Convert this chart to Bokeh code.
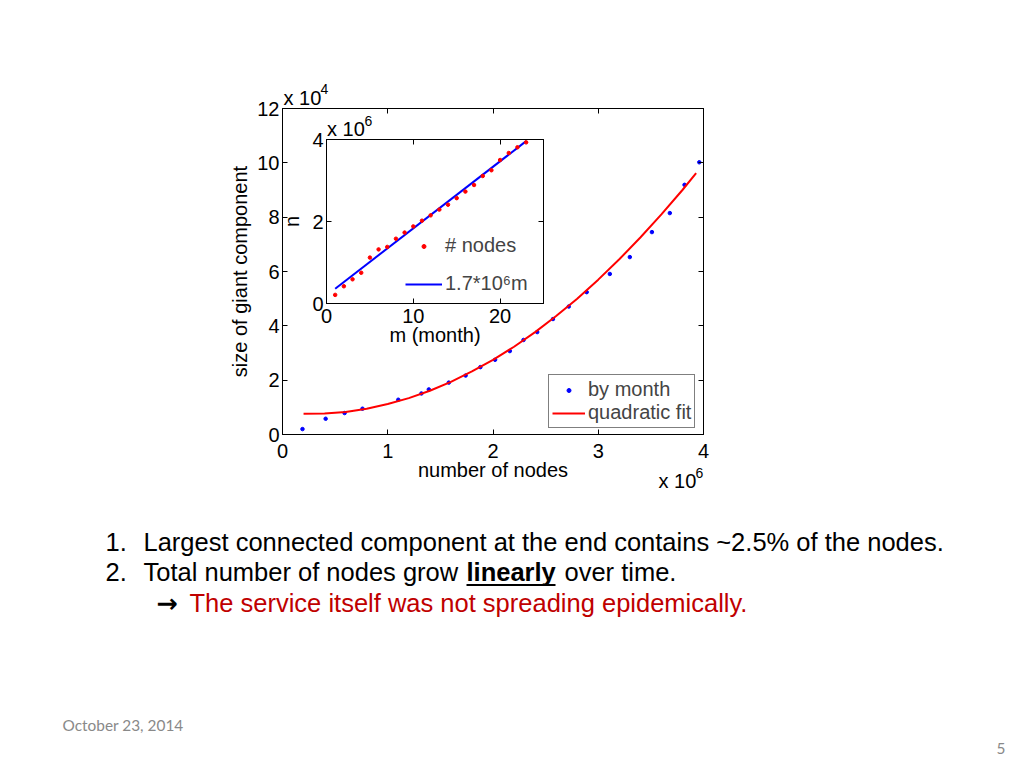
from bokeh.plotting import figure
from bokeh.layouts import column
from bokeh.models import (Range1d, LinearAxis, FixedTicker, Label, Legend,
                          LegendItem, BoxAnnotation)
from bokeh.embed import file_html
from bokeh.resources import INLINE

# ---------------- data ----------------
month = list(range(1, 24))
# inset: total nodes n (x 10^6) per month
nodes_inset = [0.21, 0.42, 0.59, 0.75, 1.12, 1.32, 1.38, 1.58, 1.73, 1.88, 2.02, 2.15,
               2.29, 2.41, 2.57, 2.73, 2.89, 3.11, 3.25, 3.50, 3.67, 3.81, 3.93]
lin_m = [1, 23]
lin_n = [0.36, 3.96]
# main: number of nodes (x 10^6) vs size of giant component (x 10^4)
nodes = [0.19, 0.41, 0.59, 0.76, 1.10, 1.32, 1.39, 1.58, 1.74, 1.88, 2.02, 2.16,
         2.29, 2.42, 2.57, 2.72, 2.89, 3.11, 3.30, 3.51, 3.68, 3.82, 3.96]
giant = [0.20, 0.58, 0.79, 0.95, 1.28, 1.51, 1.66, 1.91, 2.17, 2.48, 2.75, 3.07,
         3.48, 3.77, 4.25, 4.71, 5.24, 5.91, 6.53, 7.45, 8.15, 9.19, 10.02]
fit_x = [0.2, 0.4, 0.6, 0.8, 1.0, 1.2, 1.4, 1.6, 1.8, 2.0, 2.2, 2.4, 2.6, 2.8,
         3.0, 3.2, 3.4, 3.6, 3.8, 3.93]
fit_y = [0.76, 0.77, 0.83, 0.95, 1.12, 1.34, 1.61, 1.94, 2.32, 2.75, 3.23, 3.77,
         4.36, 5.00, 5.70, 6.45, 7.25, 8.10, 9.00, 9.62]
main_xticks = [0, 1, 2, 3, 4]
main_yticks = [0, 2, 4, 6, 8, 10, 12]
inset_xticks = [0, 10, 20]
inset_yticks = [0, 2, 4]

FONT = "Liberation Sans"
FS = "20px"


def style_axis(ax, ticks, labels=True):
    ax.ticker = FixedTicker(ticks=ticks)
    ax.major_tick_in = 5
    ax.major_tick_out = 0
    ax.minor_tick_line_color = None
    ax.axis_line_color = "black"
    ax.major_tick_line_color = "black"
    ax.major_label_text_font = FONT
    ax.major_label_text_font_size = FS
    ax.major_label_text_color = "black"
    ax.axis_label_text_font = FONT
    ax.axis_label_text_font_size = FS
    ax.axis_label_text_font_style = "normal"
    ax.axis_label_text_color = "black"
    if not labels:
        ax.major_label_text_alpha = 0


def place(fig, left, top):
    fig.styles = {"position": "absolute", "left": f"{left}px", "top": f"{top}px"}
    fig.stylesheets = [f":host {{ position: absolute !important; left: {left}px !important; "
                       f"top: {top}px !important; }}"]


# ---------------- background slide (texts) ----------------
BW, BH = 1016, 760
bg = figure(width=BW, height=BH, x_range=Range1d(0, BW), y_range=Range1d(BH, 0),
            output_backend="svg", toolbar_location=None, x_axis_location=None,
            y_axis_location=None, title_location=None, min_border=0,
            background_fill_color="white", border_fill_color="white",
            frame_align=False)
bg.outline_line_color = None
bg.xgrid.visible = False
bg.ygrid.visible = False


def lab(x, y, text, size=20.0, color="black", style="normal", font=FONT, align="left"):
    # y is the wanted baseline; the label is anchored on the middle of its em box
    bg.add_layout(Label(x=x, y=y - 0.347 * size, text=text, text_font=font,
                        text_font_size=f"{size}px", text_color=color,
                        text_font_style=style, text_baseline="alphabetic",
                        text_align=align))


# exponent labels
lab(283, 104, "x 10")
lab(320, 93.5, "4", size=14)
lab(658, 487, "x 10")
lab(695, 477, "6", size=14)
lab(326.5, 135, "x 10")
lab(364, 125, "6", size=14)

# slide text
BS = 25.5
lab(105, 550, "1.", size=BS)
lab(143, 550, "Largest connected component at the end contains ~2.5% of the nodes.", size=BS)
lab(105, 580.5, "2.", size=BS)
lab(143, 580.5, "Total number of nodes grow", size=BS)
lab(466, 580.5, "linearly", size=BS, style="bold")
lab(564, 580.5, "over time.", size=BS)
bg.add_layout(BoxAnnotation(left=466, right=555, top=583.5, bottom=585.5,
                            fill_color="black", fill_alpha=1, line_color=None))
lab(156, 611, "\u2192", size=BS, font="DejaVu Sans", style="bold")
lab(189, 611, "The service itself was not spreading epidemically.", size=BS, color="#C00000")
lab(62, 729.5, "October 23, 2014", size=15.4, color="#898989", font="Lato")
lab(1005, 753, "5", size=15.4, color="#898989", font="Lato", align="right")

# ---------------- main plot ----------------
PW, PH = 760, 520
FL, FT, FR, FB = 282, 108, 703, 434
p = figure(width=PW, height=PH, x_range=Range1d(0, 4), y_range=Range1d(0, 12),
           output_backend="svg", toolbar_location=None,
           min_border_left=FL, min_border_top=FT,
           min_border_right=PW - FR, min_border_bottom=PH - FB,
           background_fill_color=None, border_fill_color=None, frame_align=False)
p.outline_line_color = "black"
p.xgrid.visible = False
p.ygrid.visible = False
style_axis(p.xaxis[0], main_xticks)
style_axis(p.yaxis[0], main_yticks)
p.xaxis[0].axis_label = "number of nodes"
p.yaxis[0].axis_label = "size of giant component"
p.xaxis[0].major_label_standoff = 9
p.xaxis[0].axis_label_standoff = -2
p.yaxis[0].major_label_standoff = 3
p.yaxis[0].axis_label_standoff = 3
top_ax = LinearAxis()
style_axis(top_ax, main_xticks, labels=False)
p.add_layout(top_ax, "above")
right_ax = LinearAxis()
style_axis(right_ax, main_yticks, labels=False)
p.add_layout(right_ax, "right")

r_dots = p.scatter(nodes, giant, size=3.5, color="#0000FF", marker="circle")
r_fit = p.line(fit_x, fit_y, color="#FF0000", line_width=2)
leg = Legend(items=[LegendItem(label="by month", renderers=[r_dots]),
                    LegendItem(label="quadratic fit", renderers=[r_fit])],
             location=(266, 6), padding=3, margin=0, spacing=0,
             glyph_width=33, glyph_height=10, label_height=22, label_standoff=3,
             label_text_font=FONT, label_text_font_size=FS,
             border_line_color="black", border_line_width=1,
             background_fill_color="white", background_fill_alpha=1)
p.add_layout(leg)
place(p, 0, 0)

# ---------------- inset plot ----------------
IL, IT, IR, IB = 60, 40, 30, 70
IX0, IY0, IX1, IY1 = 326, 139, 543, 303
q = figure(width=IL + (IX1 - IX0) + IR, height=IT + (IY1 - IY0) + IB,
           x_range=Range1d(0, 25), y_range=Range1d(0, 4),
           output_backend="svg", toolbar_location=None,
           min_border_left=IL, min_border_top=IT, min_border_right=IR,
           min_border_bottom=IB, background_fill_color="white",
           border_fill_color=None, frame_align=False)
q.outline_line_color = "black"
q.xgrid.visible = False
q.ygrid.visible = False
style_axis(q.xaxis[0], inset_xticks)
style_axis(q.yaxis[0], inset_yticks)
q.xaxis[0].axis_label = "m (month)"
q.yaxis[0].axis_label = "n"
q.xaxis[0].major_label_standoff = 5
q.xaxis[0].axis_label_standoff = -2
q.yaxis[0].major_label_standoff = 3
q.yaxis[0].axis_label_standoff = 6
qt = LinearAxis()
style_axis(qt, inset_xticks, labels=False)
q.add_layout(qt, "above")
qr = LinearAxis()
style_axis(qr, inset_yticks, labels=False)
q.add_layout(qr, "right")

r_lin = q.line(lin_m, lin_n, color="#0000FF", line_width=2)
r_nodes = q.scatter(month, nodes_inset, size=3.5, color="#FF0000", marker="circle")
for item, loc in ((LegendItem(label="# nodes", renderers=[r_nodes]), (79, 46)),
                  (LegendItem(label="1.7*10\u2076m", renderers=[r_lin]), (79, 8))):
    q.add_layout(Legend(items=[item], location=loc, padding=0, margin=0,
                        glyph_width=37, glyph_height=10, label_height=22,
                        label_standoff=3, label_text_font=FONT,
                        label_text_font_size=FS, border_line_color=None,
                        background_fill_alpha=0))
place(q, IX0 - IL, IY0 - IT)

layout = column(bg, p, q)
open("out.html", "w").write(file_html(layout, INLINE))
